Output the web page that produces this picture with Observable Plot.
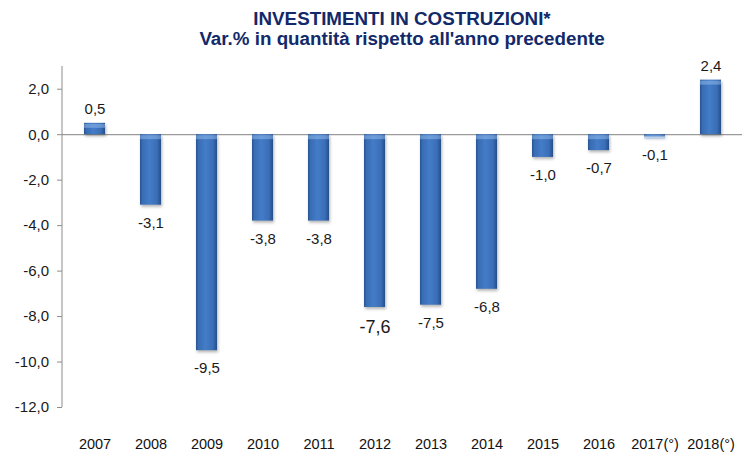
<!DOCTYPE html>
<html>
<head>
<meta charset="utf-8">
<script src="https://cdn.jsdelivr.net/npm/d3@7"></script>
<script src="https://cdn.jsdelivr.net/npm/@observablehq/plot@0.6"></script>
<style>
  body { margin: 0; background: #fff; }
  #wrap { position: relative; width: 742px; height: 458px; overflow: hidden; }
  #title {
    position: absolute; left: 62px; right: 0; top: 0; padding-top: 9px;
    text-align: center; font-family: "Liberation Sans", Arial, sans-serif;
    font-weight: bold; font-size: 18.8px; line-height: 20px; color: #12296a;
  }
</style>
</head>
<body>
<div id="wrap">
  <div id="chart"></div>
  <div id="title">
    <div>INVESTIMENTI IN COSTRUZIONI*</div>
    <div>Var.% in quantità rispetto all'anno precedente</div>
  </div>
</div>
<script>
const years = ["2007", "2008", "2009", "2010", "2011", "2012", "2013", "2014", "2015", "2016", "2017(°)", "2018(°)"];
const values = [0.5, -3.1, -9.5, -3.8, -3.8, -7.6, -7.5, -6.8, -1.0, -0.7, -0.1, 2.4];
const yTicks = [2, 0, -2, -4, -6, -8, -10, -12];
const emphasizedYear = "2012";

const data = years.map((year, i) => ({year, v: values[i]}));
const fmt = v => v.toFixed(1).replace(".", ",");

const chart = Plot.plot({
  width: 742,
  height: 458,
  marginTop: 66,
  marginBottom: 51,
  marginLeft: 62,
  marginRight: 0,
  style: {fontFamily: "'Liberation Sans', Arial, sans-serif", color: "#1a1a1a", background: "transparent"},
  x: {domain: years, paddingInner: 0.63, paddingOuter: 0.315, label: null},
  y: {domain: [-12, 3], label: null},
  marks: [
    Plot.axisY({ticks: yTicks, tickFormat: fmt, tickSize: 5, tickPadding: 8.5, stroke: "#8c8c8c", fill: "#1a1a1a", fontSize: 15, label: null}),
    Plot.axisX({tickSize: 0, tickPadding: 31, fontSize: 14.5, fill: "#111", label: null}),
    Plot.ruleY([0], {stroke: "#9a9a9a", strokeWidth: 1.2}),
    Plot.barY(data, {x: "year", y: "v", fill: "url(#barGrad)"}),
    Plot.tickY(data, {x: "year", y: d => Math.max(d.v, 0), dy: 2.5, stroke: "#9fc6f2", strokeWidth: 4, strokeOpacity: 0.45}),
    Plot.text(data.filter(d => d.v >= 0), {x: "year", y: "v", text: d => fmt(d.v), dy: -14, fontSize: 15, fill: "#1a1a1a"}),
    Plot.text(data.filter(d => d.v < 0 && d.year !== emphasizedYear), {x: "year", y: "v", text: d => fmt(d.v), dy: 18, fontSize: 15, fill: "#1a1a1a"}),
    Plot.text(data.filter(d => d.year === emphasizedYear), {x: "year", y: "v", text: d => fmt(d.v), dy: 20, fontSize: 18, fill: "#1a1a1a"})
  ]
});

document.getElementById("chart").appendChild(chart);

const svg = d3.select(chart);
const defs = svg.insert("defs", ":first-child");
const g = defs.append("linearGradient").attr("id", "barGrad").attr("x1", 0).attr("x2", 1).attr("y1", 0).attr("y2", 0);
[["0%", "#2a5491"], ["12%", "#386db4"], ["45%", "#447cc8"], ["80%", "#3a6fb7"], ["100%", "#264e89"]]
  .forEach(([o, c]) => g.append("stop").attr("offset", o).attr("stop-color", c));

svg.selectAll("g[aria-label='bar']").style("filter", "drop-shadow(1.5px 2px 1.5px rgba(0,0,0,0.3))");

// vertical axis line drawn from the plot's own y scale
const yS = chart.scale("y");
svg.append("line")
  .attr("x1", 62).attr("x2", 62)
  .attr("y1", yS.apply(3)).attr("y2", yS.apply(-12))
  .attr("stroke", "#8c8c8c").attr("stroke-width", 1);
</script>
</body>
</html>
